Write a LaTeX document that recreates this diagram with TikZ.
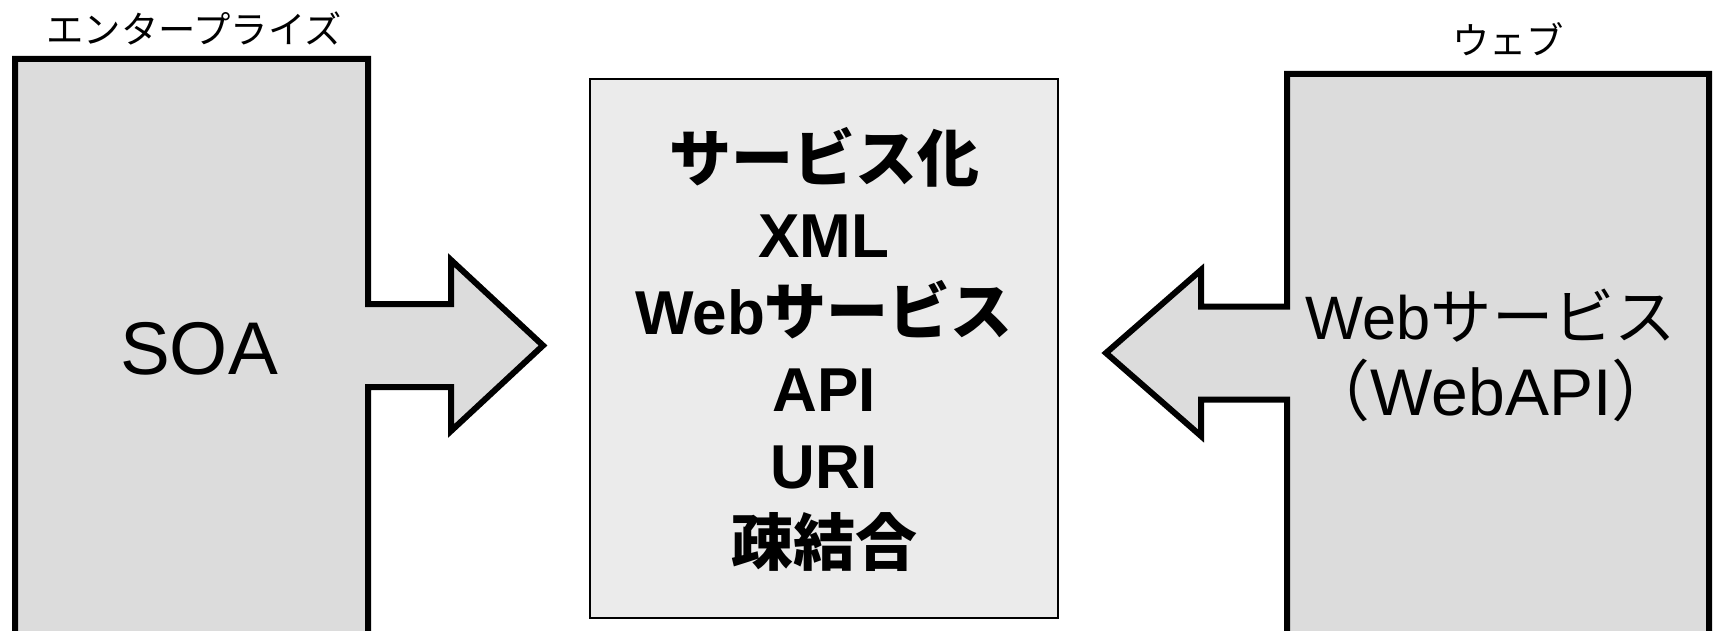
\documentclass[tikz,border=0pt]{standalone}
\usepackage{fontspec}
\setmainfont{Liberation Sans}
\newfontfamily\jpfont{Noto Sans CJK JP}
\newcommand{\jtxt}[1]{{\jpfont #1}}
\definecolor{sidegray}{RGB}{220,220,220}
\definecolor{midgray}{RGB}{235,235,235}
\tikzset{
  sidebody/.style={draw=black, line width=4.5pt, fill=sidegray, line join=miter, miter limit=10},
  midpanel/.style={draw=black, line width=1.5pt, fill=midgray, inner sep=0pt,
                   minimum width=351pt, minimum height=404.25pt},
  lbl/.style={inner sep=0pt, anchor=base},
  midtext/.style={lbl, font=\fontsize{46.5}{50}\selectfont\bfseries},
  headtext/.style={inner sep=0pt, font=\jpfont\fontsize{28}{31}\selectfont}
}
\begin{document}
\begin{tikzpicture}[x=0.75pt, y=-0.75pt]
\useasboundingbox (0,0) rectangle (1713,631);
\clip (0,0) rectangle (1713,631);

% enterprise side: body with an arrow pointing right
\draw[sidebody] (15,660) -- (15,59) -- (368,59) -- (368,304) -- (451,304) -- (451,260)
  -- (543,345.5) -- (451,431) -- (451,387) -- (368,387) -- (368,660) -- cycle;

% web side: body with an arrow pointing left
\draw[sidebody] (1287,660) -- (1287,399.5) -- (1201,399.5) -- (1201,436) -- (1106,353)
  -- (1201,270) -- (1201,306.5) -- (1287,306.5) -- (1287,74) -- (1709,74) -- (1709,660) -- cycle;

% central panel
\node[midpanel] (mid) at (824,348.5) {};

% headings
\node[headtext] (hl) at (194,28) {エンタープライズ};
\node[headtext] (hr) at (1508,39) {ウェブ};

% side labels
\node[lbl, font=\fontsize{56}{60}\selectfont] (soa) at (199,374) {SOA};
\node[lbl, font=\fontsize{46}{50}\selectfont] (r1) at (1491,339) {Web\jtxt{サービス}};
\node[lbl, font=\fontsize{49.5}{54}\selectfont] (r2) at (1491,415) {\jtxt{（}WebAPI\jtxt{）}};

% central keywords
\node[midtext] (m1) at (824,182) {\jtxt{サービス化}};
\node[midtext] (m2) at (824,257) {XML};
\node[midtext] (m3) at (824,334) {Web\jtxt{サービス}};
\node[midtext] (m4) at (824,411) {API};
\node[midtext] (m5) at (824,488) {URI};
\node[midtext] (m6) at (824,565) {\jtxt{疎結合}};
\end{tikzpicture}
\end{document}
